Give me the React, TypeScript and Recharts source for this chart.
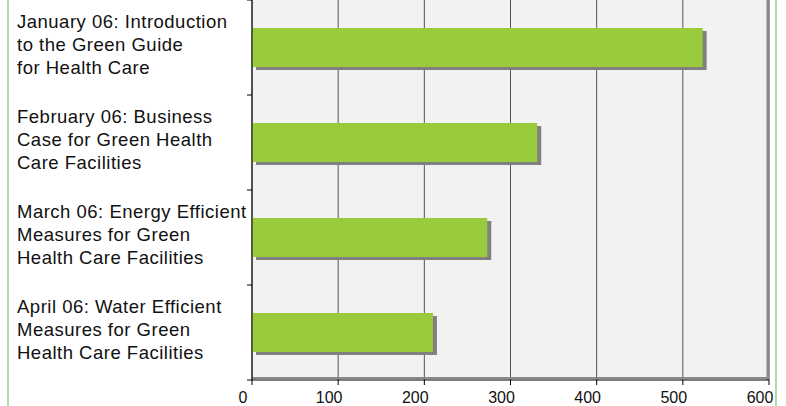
import React from 'react';
import { BarChart, Bar, XAxis, YAxis, CartesianGrid } from 'recharts';

const categories = [
  'January 06: Introduction\nto the Green Guide\nfor Health Care',
  'February 06: Business\nCase for Green Health\nCare Facilities',
  'March 06: Energy Efficient\nMeasures for Green\nHealth Care Facilities',
  'April 06: Water Efficient\nMeasures for Green\nHealth Care Facilities',
];
const attendees = [523, 331, 273, 210];
const xTicks = [0, 100, 200, 300, 400, 500, 600];

const data = categories.map((name, i) => ({ name, value: attendees[i] }));

const FONT = '"Liberation Sans", Arial, sans-serif';

function CategoryTick(props: any) {
  const { x, y, payload, index } = props;
  const half = payload && payload.offset ? payload.offset : 0;
  const lines = String(payload.value).split('\n');
  return (
    <g>
      <line x1={x - 5} x2={x} y1={y + half} y2={y + half} stroke="#000" />
      {index === 0 && <line x1={x - 5} x2={x} y1={y - half} y2={y - half} stroke="#000" />}
      <text x={17} y={y} fontSize={18.5} letterSpacing={0.5} fill="#111" fontFamily={FONT}>
        {lines.map((l, i) => (
          <tspan key={i} x={17} y={y - 19.5 + i * 23}>
            {l}
          </tspan>
        ))}
      </text>
    </g>
  );
}

function ValueTick(props: any) {
  const { x, y, payload } = props;
  return (
    <text x={x - 9} y={y + 16} textAnchor="middle" fontSize={16} fill="#111" fontFamily={FONT}>
      {payload.value}
    </text>
  );
}

function ShadowBar(props: any) {
  const { x, y, width, height, fill } = props;
  if (!width || width <= 0) return null;
  return (
    <g>
      <rect x={x + 4} y={y + 3} width={width} height={height} fill="#808080" />
      <rect x={x} y={y} width={width} height={height} fill={fill} />
    </g>
  );
}

export default function App() {
  return (
    <div style={{ position: 'absolute', left: 0, top: 0, width: 786, height: 406, background: '#fff' }}>
      <div style={{ position: 'absolute', left: 7, top: 0, width: 2, height: 406, background: '#a8dca8' }} />
      <div style={{ position: 'absolute', left: 775, top: 0, width: 2, height: 406, background: '#a8dca8' }} />
      <BarChart
        width={786}
        height={406}
        data={data}
        layout="vertical"
        margin={{ top: 0, right: 17, left: 0, bottom: 0 }}
        barCategoryGap={0}
        style={{ position: 'absolute', left: 0, top: 0 }}
      >
        <CartesianGrid horizontal={false} stroke="#555" fill="#f2f2f2" fillOpacity={1} />
        <CartesianGrid
          vertical={false}
          stroke="#8a8a8a"
          strokeWidth={2}
          horizontalCoordinatesGenerator={({ offset }: any) => [offset.top + offset.height - 2]}
        />
        <CartesianGrid
          horizontal={false}
          stroke="#8a8a8a"
          strokeWidth={3}
          verticalCoordinatesGenerator={({ offset }: any) => [offset.left + offset.width - 1]}
        />
        <XAxis
          type="number"
          domain={[0, 600]}
          ticks={xTicks}
          height={26}
          axisLine={{ stroke: '#000' }}
          tickLine={{ stroke: '#000' }}
          tickSize={5}
          tick={<ValueTick />}
        />
        <YAxis
          type="category"
          dataKey="name"
          width={252}
          axisLine={{ stroke: '#000' }}
          tickLine={false}
          tickSize={0}
          tickMargin={0}
          tick={<CategoryTick />}
          interval={0}
        />
        <Bar dataKey="value" fill="#9acb3c" barSize={39} shape={<ShadowBar />} isAnimationActive={false} />
      </BarChart>
    </div>
  );
}
